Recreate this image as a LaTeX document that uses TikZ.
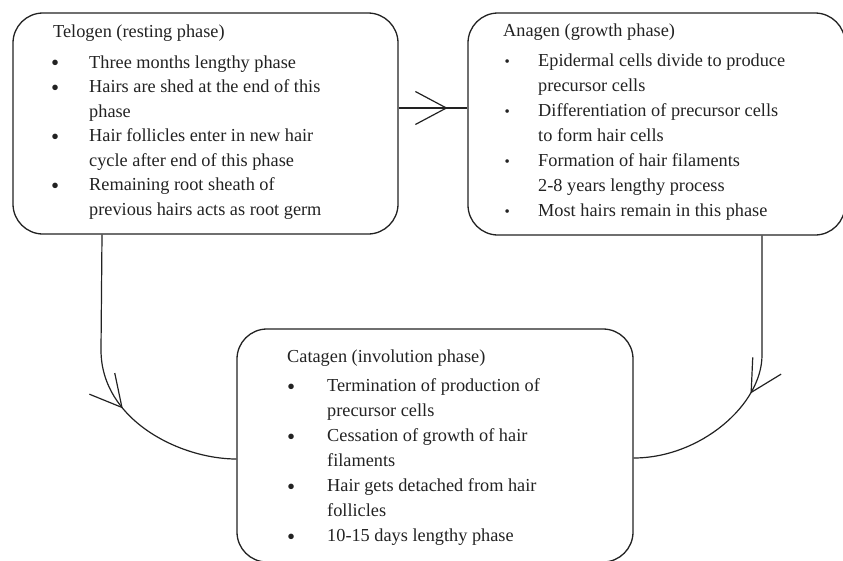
\documentclass[tikz,border=0pt]{standalone}
\usepackage{fontspec}
\setmainfont{Liberation Serif}
\usetikzlibrary{arrows.meta,decorations.markings}
\definecolor{ink}{HTML}{222222}
\newcommand{\bigbul}{\raisebox{-2.5pt}{\fontsize{23}{23}\selectfont •}}
\newcommand{\smallbul}{{\fontsize{15}{15}\selectfont •}}
\begin{document}
\begin{tikzpicture}[x=1pt,y=-1pt,
  phase/.style={draw=ink, line width=1.3pt, rounded corners=30pt, inner sep=0pt},
  conn/.style={draw=ink, line width=1.2pt},
  txt/.style={anchor=base west, inner sep=0pt, text=ink, font=\fontsize{18.3}{24.5}\selectfont},
  txtb/.style={anchor=base west, inner sep=0pt, text=ink, font=\fontsize{18.3}{25}\selectfont},
  barb/.style={postaction={decorate, decoration={markings,
      mark=at position #1 with {\arrow{Straight Barb[length=31pt,width=33pt,line width=1.2pt]}}}}},
]
\useasboundingbox (0,0) rectangle (843,560);

% boxes
\node[phase, minimum width=385pt, minimum height=221pt] (tel) at (205.5,123.5) {};
\node[phase, minimum width=377pt, minimum height=222pt] (ana) at (656.5,124) {};
\node[phase, minimum width=396pt, minimum height=233pt] (cat) at (435,445.5) {};

% Telogen text
\node[txt] (teltitle) at (53,37) {Telogen (resting phase)};
\node[txt] (tellist) at (51,68) {\begin{tabular}[t]{@{}p{38pt}@{}l@{}}
\bigbul& Three months lengthy phase\\
\bigbul& Hairs are shed at the end of this\\
 & phase\\
\bigbul& Hair follicles enter in new hair\\
 & cycle after end of this phase\\
\bigbul& Remaining root sheath of\\
 & previous hairs acts as root germ
\end{tabular}};

% Anagen text
\node[txtb] (anatitle) at (503,36.5) {Anagen (growth phase)};
\node[txtb] (analist) at (504.4,66.5) {\begin{tabular}[t]{@{}p{33.6pt}@{}l@{}}
\smallbul& Epidermal cells divide to produce\\
 & precursor cells\\
\smallbul& Differentiation of precursor cells\\
 & to form hair cells\\
\smallbul& Formation of hair filaments\\
 & 2-8 years lengthy process\\
\smallbul& Most hairs remain in this phase
\end{tabular}};

% Catagen text
\node[txtb] (cattitle) at (287,362) {Catagen (involution phase)};
\node[txtb] (catlist) at (287,391.5) {\begin{tabular}[t]{@{}p{40pt}@{}l@{}}
\bigbul& Termination of production of\\
 & precursor cells\\
\bigbul& Cessation of growth of hair\\
 & filaments\\
\bigbul& Hair gets detached from hair\\
 & follicles\\
\bigbul& 10-15 days lengthy phase
\end{tabular}};

% connectors
\path[conn, barb=49pt] (tel.east |- 0,108) -- (ana.west |- 0,108);
\path[conn, barb=179pt] (tel.south -| 102,0) -- (101,350)
  .. controls (101,420) and (180,459) .. (cat.west |- 0,459);
\path[conn, barb=160pt] (ana.south -| 762,0) -- (762,355)
  .. controls (762,405) and (700,458) .. (cat.east |- 0,458);
\end{tikzpicture}
\end{document}
